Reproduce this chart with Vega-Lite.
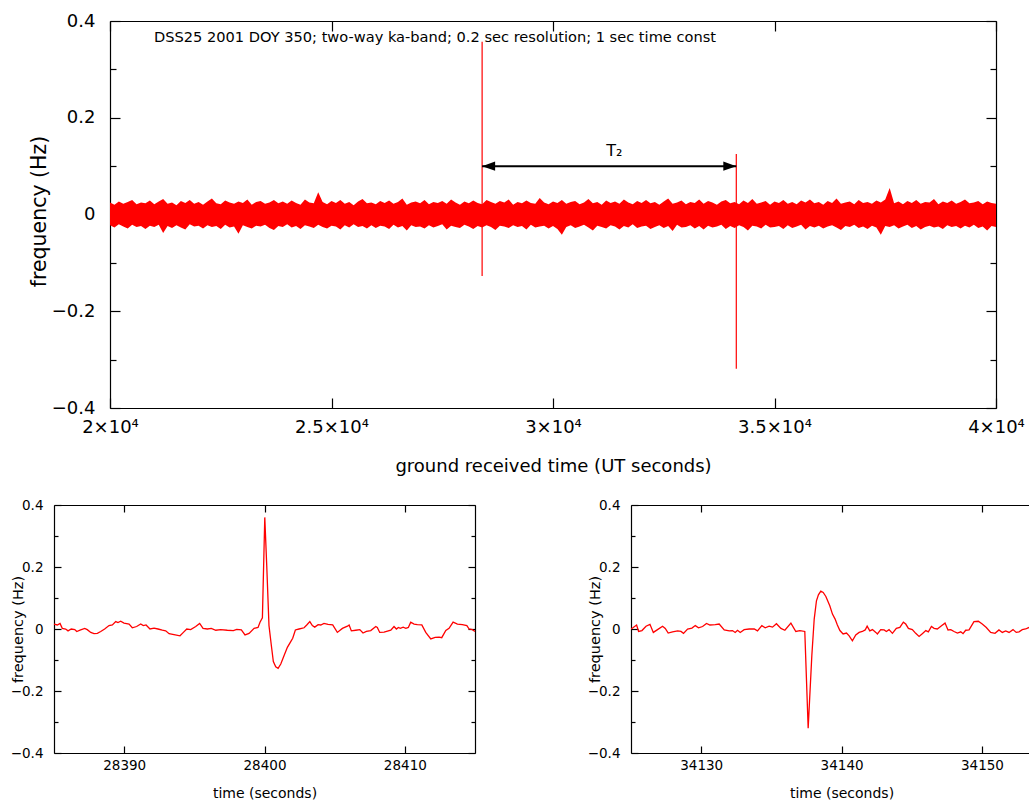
{
"$schema": "https://vega.github.io/schema/vega-lite/v6.json",
"background": "white",
"padding": {"left": 10, "top": 12, "right": 0, "bottom": 0},
"config": {"font": "DejaVu Sans", "view": {"stroke": null},
  "axis": {"grid": false, "domainColor": "black", "tickColor": "black", "labelColor": "black", "titleColor": "black", "titleFontWeight": "normal", "domainWidth": 1.2, "tickWidth": 1.2, "labelFlush": false, "labelOverlap": false, "labelBound": false}},
"datasets": {
"band": [
{"t":20000,"h":0.025,"l":-0.022},{"t":20100,"h":0.020,"l":-0.027},{"t":20200,"h":0.027,"l":-0.020},{"t":20300,"h":0.022,"l":-0.025},{"t":20400,"h":0.026,"l":-0.029},{"t":20500,"h":0.030,"l":-0.021},{"t":20600,"h":0.021,"l":-0.026},{"t":20700,"h":0.025,"l":-0.024},{"t":20800,"h":0.023,"l":-0.030},{"t":20900,"h":0.029,"l":-0.023},
{"t":21000,"h":0.021,"l":-0.026},{"t":21100,"h":0.027,"l":-0.021},{"t":21200,"h":0.032,"l":-0.038},{"t":21300,"h":0.022,"l":-0.024},{"t":21400,"h":0.025,"l":-0.028},{"t":21500,"h":0.019,"l":-0.022},{"t":21600,"h":0.028,"l":-0.027},{"t":21700,"h":0.024,"l":-0.031},{"t":21800,"h":0.030,"l":-0.020},{"t":21900,"h":0.022,"l":-0.025},
{"t":22000,"h":0.026,"l":-0.023},{"t":22100,"h":0.020,"l":-0.029},{"t":22200,"h":0.027,"l":-0.022},{"t":22300,"h":0.033,"l":-0.026},{"t":22400,"h":0.023,"l":-0.024},{"t":22500,"h":0.021,"l":-0.030},{"t":22600,"h":0.029,"l":-0.021},{"t":22700,"h":0.025,"l":-0.027},{"t":22800,"h":0.022,"l":-0.025},{"t":22900,"h":0.027,"l":-0.040},
{"t":23000,"h":0.024,"l":-0.022},{"t":23100,"h":0.031,"l":-0.026},{"t":23200,"h":0.020,"l":-0.029},{"t":23300,"h":0.026,"l":-0.023},{"t":23400,"h":0.028,"l":-0.025},{"t":23500,"h":0.022,"l":-0.021},{"t":23600,"h":0.025,"l":-0.028},{"t":23700,"h":0.030,"l":-0.032},{"t":23800,"h":0.023,"l":-0.024},{"t":23900,"h":0.027,"l":-0.026},
{"t":24000,"h":0.022,"l":-0.020},{"t":24100,"h":0.029,"l":-0.027},{"t":24200,"h":0.024,"l":-0.024},{"t":24300,"h":0.020,"l":-0.030},{"t":24400,"h":0.031,"l":-0.022},{"t":24500,"h":0.025,"l":-0.025},{"t":24600,"h":0.023,"l":-0.028},{"t":24700,"h":0.046,"l":-0.021},{"t":24800,"h":0.026,"l":-0.026},{"t":24900,"h":0.021,"l":-0.029},
{"t":25000,"h":0.028,"l":-0.023},{"t":25100,"h":0.024,"l":-0.025},{"t":25200,"h":0.030,"l":-0.031},{"t":25300,"h":0.022,"l":-0.022},{"t":25400,"h":0.026,"l":-0.027},{"t":25500,"h":0.019,"l":-0.020},{"t":25600,"h":0.027,"l":-0.026},{"t":25700,"h":0.032,"l":-0.024},{"t":25800,"h":0.023,"l":-0.029},{"t":25900,"h":0.025,"l":-0.022},
{"t":26000,"h":0.021,"l":-0.028},{"t":26100,"h":0.028,"l":-0.023},{"t":26200,"h":0.024,"l":-0.025},{"t":26300,"h":0.029,"l":-0.030},{"t":26400,"h":0.022,"l":-0.021},{"t":26500,"h":0.026,"l":-0.027},{"t":26600,"h":0.033,"l":-0.024},{"t":26700,"h":0.020,"l":-0.033},{"t":26800,"h":0.025,"l":-0.022},{"t":26900,"h":0.027,"l":-0.026},
{"t":27000,"h":0.023,"l":-0.025},{"t":27100,"h":0.030,"l":-0.029},{"t":27200,"h":0.021,"l":-0.022},{"t":27300,"h":0.026,"l":-0.027},{"t":27400,"h":0.024,"l":-0.024},{"t":27500,"h":0.028,"l":-0.020},{"t":27600,"h":0.022,"l":-0.031},{"t":27700,"h":0.031,"l":-0.023},{"t":27800,"h":0.025,"l":-0.026},{"t":27900,"h":0.020,"l":-0.028},
{"t":28000,"h":0.027,"l":-0.021},{"t":28100,"h":0.023,"l":-0.025},{"t":28200,"h":0.029,"l":-0.030},{"t":28300,"h":0.024,"l":-0.024},{"t":28400,"h":0.021,"l":-0.027},{"t":28500,"h":0.030,"l":-0.022},{"t":28600,"h":0.026,"l":-0.026},{"t":28700,"h":0.022,"l":-0.032},{"t":28800,"h":0.028,"l":-0.023},{"t":28900,"h":0.025,"l":-0.025},
{"t":29000,"h":0.031,"l":-0.028},{"t":29100,"h":0.020,"l":-0.022},{"t":29200,"h":0.026,"l":-0.026},{"t":29300,"h":0.023,"l":-0.024},{"t":29400,"h":0.029,"l":-0.031},{"t":29500,"h":0.024,"l":-0.021},{"t":29600,"h":0.022,"l":-0.027},{"t":29700,"h":0.034,"l":-0.025},{"t":29800,"h":0.025,"l":-0.023},{"t":29900,"h":0.021,"l":-0.029},
{"t":30000,"h":0.027,"l":-0.024},{"t":30100,"h":0.024,"l":-0.030},{"t":30200,"h":0.030,"l":-0.042},{"t":30300,"h":0.022,"l":-0.026},{"t":30400,"h":0.026,"l":-0.022},{"t":30500,"h":0.028,"l":-0.028},{"t":30600,"h":0.021,"l":-0.025},{"t":30700,"h":0.025,"l":-0.021},{"t":30800,"h":0.032,"l":-0.027},{"t":30900,"h":0.023,"l":-0.033},
{"t":31000,"h":0.026,"l":-0.023},{"t":31100,"h":0.020,"l":-0.026},{"t":31200,"h":0.029,"l":-0.029},{"t":31300,"h":0.024,"l":-0.022},{"t":31400,"h":0.027,"l":-0.025},{"t":31500,"h":0.022,"l":-0.031},{"t":31600,"h":0.031,"l":-0.024},{"t":31700,"h":0.025,"l":-0.027},{"t":31800,"h":0.021,"l":-0.020},{"t":31900,"h":0.028,"l":-0.028},
{"t":32000,"h":0.024,"l":-0.025},{"t":32100,"h":0.030,"l":-0.023},{"t":32200,"h":0.023,"l":-0.030},{"t":32300,"h":0.026,"l":-0.026},{"t":32400,"h":0.020,"l":-0.022},{"t":32500,"h":0.027,"l":-0.028},{"t":32600,"h":0.033,"l":-0.024},{"t":32700,"h":0.022,"l":-0.034},{"t":32800,"h":0.025,"l":-0.021},{"t":32900,"h":0.029,"l":-0.027},
{"t":33000,"h":0.021,"l":-0.026},{"t":33100,"h":0.026,"l":-0.022},{"t":33200,"h":0.024,"l":-0.029},{"t":33300,"h":0.031,"l":-0.024},{"t":33400,"h":0.022,"l":-0.031},{"t":33500,"h":0.028,"l":-0.023},{"t":33600,"h":0.025,"l":-0.027},{"t":33700,"h":0.020,"l":-0.025},{"t":33800,"h":0.027,"l":-0.021},{"t":33900,"h":0.030,"l":-0.030},
{"t":34000,"h":0.023,"l":-0.024},{"t":34100,"h":0.026,"l":-0.028},{"t":34200,"h":0.021,"l":-0.022},{"t":34300,"h":0.029,"l":-0.026},{"t":34400,"h":0.024,"l":-0.033},{"t":34500,"h":0.032,"l":-0.023},{"t":34600,"h":0.022,"l":-0.025},{"t":34700,"h":0.025,"l":-0.029},{"t":34800,"h":0.028,"l":-0.021},{"t":34900,"h":0.020,"l":-0.027},
{"t":35000,"h":0.027,"l":-0.026},{"t":35100,"h":0.024,"l":-0.024},{"t":35200,"h":0.030,"l":-0.030},{"t":35300,"h":0.022,"l":-0.022},{"t":35400,"h":0.026,"l":-0.028},{"t":35500,"h":0.021,"l":-0.025},{"t":35600,"h":0.029,"l":-0.021},{"t":35700,"h":0.025,"l":-0.031},{"t":35800,"h":0.031,"l":-0.024},{"t":35900,"h":0.023,"l":-0.027},
{"t":36000,"h":0.026,"l":-0.023},{"t":36100,"h":0.020,"l":-0.029},{"t":36200,"h":0.028,"l":-0.025},{"t":36300,"h":0.024,"l":-0.022},{"t":36400,"h":0.033,"l":-0.027},{"t":36500,"h":0.022,"l":-0.032},{"t":36600,"h":0.025,"l":-0.024},{"t":36700,"h":0.027,"l":-0.026},{"t":36800,"h":0.021,"l":-0.021},{"t":36900,"h":0.030,"l":-0.028},
{"t":37000,"h":0.024,"l":-0.025},{"t":37100,"h":0.026,"l":-0.030},{"t":37200,"h":0.022,"l":-0.023},{"t":37300,"h":0.029,"l":-0.027},{"t":37400,"h":0.025,"l":-0.042},{"t":37500,"h":0.031,"l":-0.024},{"t":37600,"h":0.055,"l":-0.026},{"t":37700,"h":0.023,"l":-0.022},{"t":37800,"h":0.027,"l":-0.029},{"t":37900,"h":0.021,"l":-0.025},
{"t":38000,"h":0.028,"l":-0.021},{"t":38100,"h":0.024,"l":-0.028},{"t":38200,"h":0.030,"l":-0.024},{"t":38300,"h":0.022,"l":-0.031},{"t":38400,"h":0.026,"l":-0.026},{"t":38500,"h":0.025,"l":-0.023},{"t":38600,"h":0.032,"l":-0.027},{"t":38700,"h":0.021,"l":-0.025},{"t":38800,"h":0.027,"l":-0.030},{"t":38900,"h":0.024,"l":-0.022},
{"t":39000,"h":0.029,"l":-0.026},{"t":39100,"h":0.022,"l":-0.024},{"t":39200,"h":0.026,"l":-0.029},{"t":39300,"h":0.031,"l":-0.023},{"t":39400,"h":0.023,"l":-0.027},{"t":39500,"h":0.025,"l":-0.021},{"t":39600,"h":0.028,"l":-0.028},{"t":39700,"h":0.021,"l":-0.025},{"t":39800,"h":0.027,"l":-0.033},{"t":39900,"h":0.024,"l":-0.024},
{"t":40000,"h":0.022,"l":-0.026}
],
"spikes": [{"t":28400,"hi":0.357,"lo":-0.127},{"t":34137.6,"hi":0.125,"lo":-0.319}],
"arrow": [{"start":28400,"end":34137.6,"y":0.1}],
"heads": [{"t":28400,"y":0.1,"side":"left"},{"t":34137.6,"y":0.1,"side":"right"}],
"note": [{"t":20993,"y":0.365,"label":"DSS25 2001 DOY 350; two-way ka-band; 0.2 sec resolution; 1 sec time const"}],
"t2": [{"t":31270,"y":0.131,"label":"T₂"}],
"left": [
{"t":28385.00,"f":0.016},{"t":28385.24,"f":0.013},{"t":28385.43,"f":0.018},{"t":28385.59,"f":0.002},{"t":28385.83,"f":0},{"t":28386.00,"f":-0.006},{"t":28386.23,"f":0},{"t":28386.48,"f":-0.002},{"t":28386.62,"f":-0.008},{"t":28386.90,"f":-0.003},
{"t":28387.19,"f":0.002},{"t":28387.37,"f":-0.002},{"t":28387.62,"f":-0.011},{"t":28387.85,"f":-0.015},{"t":28388.09,"f":-0.014},{"t":28388.33,"f":-0.008},{"t":28388.61,"f":0},{"t":28388.92,"f":0.011},{"t":28389.16,"f":0.013},{"t":28389.40,"f":0.024},
{"t":28389.56,"f":0.021},{"t":28389.75,"f":0.025},{"t":28389.99,"f":0.019},{"t":28390.35,"f":0.016},{"t":28390.58,"f":0.004},{"t":28390.89,"f":0.008},{"t":28391.18,"f":0.016},{"t":28391.36,"f":0.011},{"t":28391.56,"f":0.013},{"t":28391.84,"f":0},
{"t":28392.13,"f":0.003},{"t":28392.41,"f":0},{"t":28392.72,"f":-0.004},{"t":28392.96,"f":-0.006},{"t":28393.20,"f":-0.015},{"t":28393.55,"f":-0.018},{"t":28393.98,"f":-0.022},{"t":28394.22,"f":-0.011},{"t":28394.46,"f":0},{"t":28394.74,"f":-0.002},
{"t":28395.10,"f":0.008},{"t":28395.38,"f":0.018},{"t":28395.62,"f":0.002},{"t":28395.93,"f":0},{"t":28396.21,"f":0.002},{"t":28396.53,"f":-0.004},{"t":28396.88,"f":-0.002},{"t":28397.35,"f":-0.004},{"t":28397.78,"f":-0.005},{"t":28398.02,"f":-0.001},
{"t":28398.35,"f":-0.003},{"t":28398.61,"f":-0.019},{"t":28398.90,"f":-0.014},{"t":28399.26,"f":0.002},{"t":28399.54,"f":0.005},{"t":28399.68,"f":0.022},{"t":28399.85,"f":0.036},{"t":28400.02,"f":0.36},{"t":28400.16,"f":0.204},{"t":28400.32,"f":0.011},
{"t":28400.49,"f":-0.054},{"t":28400.63,"f":-0.105},{"t":28400.80,"f":-0.122},{"t":28400.97,"f":-0.127},{"t":28401.16,"f":-0.113},{"t":28401.39,"f":-0.086},{"t":28401.63,"f":-0.059},{"t":28401.87,"f":-0.041},{"t":28402.01,"f":-0.030},{"t":28402.20,"f":-0.003},
{"t":28402.46,"f":0},{"t":28402.82,"f":0.004},{"t":28403.01,"f":0.013},{"t":28403.23,"f":0.024},{"t":28403.41,"f":0.011},{"t":28403.58,"f":0.006},{"t":28403.82,"f":0.014},{"t":28404.01,"f":0.013},{"t":28404.24,"f":0.018},{"t":28404.53,"f":0.015},
{"t":28404.86,"f":0.013},{"t":28405.19,"f":-0.011},{"t":28405.55,"f":0.002},{"t":28405.91,"f":0.009},{"t":28406.03,"f":0.013},{"t":28406.19,"f":-0.006},{"t":28406.50,"f":-0.004},{"t":28406.79,"f":-0.002},{"t":28407.02,"f":-0.013},{"t":28407.26,"f":-0.008},
{"t":28407.57,"f":-0.005},{"t":28407.93,"f":0.008},{"t":28408.04,"f":0.005},{"t":28408.21,"f":-0.011},{"t":28408.52,"f":-0.010},{"t":28409.00,"f":-0.004},{"t":28409.23,"f":0.008},{"t":28409.40,"f":0},{"t":28409.54,"f":0.005},{"t":28409.68,"f":0.002},
{"t":28409.88,"f":0.006},{"t":28410.07,"f":0.002},{"t":28410.25,"f":0.005},{"t":28410.42,"f":0.022},{"t":28410.66,"f":0.016},{"t":28410.89,"f":0.014},{"t":28411.21,"f":0.013},{"t":28411.49,"f":-0.011},{"t":28411.85,"f":-0.032},{"t":28412.16,"f":-0.027},
{"t":28412.44,"f":-0.026},{"t":28412.63,"f":-0.028},{"t":28412.92,"f":-0.005},{"t":28413.15,"f":0.002},{"t":28413.44,"f":0.022},{"t":28413.75,"f":0.016},{"t":28414.10,"f":0.014},{"t":28414.42,"f":0.011},{"t":28414.58,"f":0},{"t":28414.81,"f":-0.002},
{"t":28415.00,"f":-0.008}
],
"right": [
{"t":34125.00,"f":0},{"t":34125.16,"f":0.005},{"t":34125.40,"f":0.013},{"t":34125.54,"f":-0.008},{"t":34125.78,"f":-0.005},{"t":34126.07,"f":0.009},{"t":34126.35,"f":0.015},{"t":34126.59,"f":-0.011},{"t":34126.89,"f":-0.002},{"t":34127.25,"f":0.009},
{"t":34127.44,"f":0.002},{"t":34127.65,"f":-0.013},{"t":34127.96,"f":-0.009},{"t":34128.32,"f":-0.006},{"t":34128.56,"f":-0.008},{"t":34128.74,"f":-0.014},{"t":34129.03,"f":0},{"t":34129.34,"f":0.003},{"t":34129.58,"f":0.011},{"t":34129.81,"f":0.004},
{"t":34130.10,"f":0.008},{"t":34130.38,"f":0.018},{"t":34130.62,"f":0.013},{"t":34131.00,"f":0.014},{"t":34131.28,"f":0.016},{"t":34131.64,"f":-0.003},{"t":34132.00,"f":-0.006},{"t":34132.23,"f":-0.005},{"t":34132.42,"f":-0.011},{"t":34132.59,"f":-0.004},
{"t":34132.78,"f":-0.011},{"t":34133.06,"f":-0.002},{"t":34133.42,"f":0},{"t":34133.78,"f":0},{"t":34134.01,"f":-0.006},{"t":34134.32,"f":0.011},{"t":34134.56,"f":0.004},{"t":34134.84,"f":0.009},{"t":34135.08,"f":0.006},{"t":34135.36,"f":0.017},
{"t":34135.68,"f":0.002},{"t":34135.96,"f":-0.004},{"t":34136.39,"f":0.019},{"t":34136.74,"f":-0.008},{"t":34137.03,"f":-0.005},{"t":34137.38,"f":-0.008},{"t":34137.62,"f":-0.32},{"t":34137.88,"f":-0.086},{"t":34138.05,"f":0.032},{"t":34138.21,"f":0.091},
{"t":34138.35,"f":0.110},{"t":34138.52,"f":0.122},{"t":34138.69,"f":0.118},{"t":34138.88,"f":0.105},{"t":34139.16,"f":0.075},{"t":34139.35,"f":0.048},{"t":34139.54,"f":0.032},{"t":34139.70,"f":0.013},{"t":34139.88,"f":-0.005},{"t":34140.11,"f":-0.016},
{"t":34140.35,"f":-0.013},{"t":34140.54,"f":-0.022},{"t":34140.77,"f":-0.038},{"t":34141.01,"f":-0.019},{"t":34141.25,"f":-0.011},{"t":34141.48,"f":-0.008},{"t":34141.68,"f":-0.003},{"t":34141.82,"f":0.009},{"t":34142.01,"f":-0.006},{"t":34142.20,"f":-0.002},
{"t":34142.44,"f":-0.011},{"t":34142.55,"f":-0.016},{"t":34142.79,"f":-0.002},{"t":34143.03,"f":-0.003},{"t":34143.19,"f":-0.008},{"t":34143.38,"f":-0.002},{"t":34143.62,"f":-0.014},{"t":34143.90,"f":0.002},{"t":34144.15,"f":0.005},{"t":34144.40,"f":0.022},
{"t":34144.57,"f":0.016},{"t":34144.76,"f":0.002},{"t":34145.04,"f":-0.002},{"t":34145.28,"f":-0.014},{"t":34145.52,"f":-0.024},{"t":34145.75,"f":-0.015},{"t":34146.00,"f":-0.005},{"t":34146.18,"f":-0.009},{"t":34146.40,"f":0.008},{"t":34146.59,"f":0.002},
{"t":34146.82,"f":0},{"t":34147.14,"f":0.011},{"t":34147.37,"f":0.019},{"t":34147.58,"f":-0.003},{"t":34147.78,"f":-0.002},{"t":34148.01,"f":-0.008},{"t":34148.25,"f":-0.013},{"t":34148.49,"f":-0.009},{"t":34148.65,"f":-0.015},{"t":34148.84,"f":-0.004},
{"t":34149.08,"f":-0.003},{"t":34149.43,"f":0.024},{"t":34149.74,"f":0.025},{"t":34150.02,"f":0.016},{"t":34150.31,"f":0.005},{"t":34150.62,"f":-0.011},{"t":34150.93,"f":-0.014},{"t":34151.21,"f":-0.003},{"t":34151.45,"f":-0.011},{"t":34151.69,"f":-0.006},
{"t":34151.93,"f":-0.011},{"t":34152.21,"f":-0.002},{"t":34152.44,"f":-0.011},{"t":34152.64,"f":-0.009},{"t":34152.87,"f":-0.002},{"t":34153.11,"f":0},{"t":34153.35,"f":0.005}
]
},
"spacing": 23,
"vconcat": [
{"bounds": "flush", "spacing": 10, "hconcat": [
  {"width": 46, "height": 10, "data": {"values": [{}]}, "mark": {"type": "point", "opacity": 0}, "encoding": {}},
  {"width": 886, "height": 387,
   "layer": [
    {"data": {"name": "band"}, "mark": {"type": "area", "color": "#ff0000", "interpolate": "linear"},
     "encoding": {
      "x": {"field": "t", "type": "quantitative", "scale": {"domain": [20000, 40000], "nice": false, "zero": false},
        "axis": {"orient": "bottom", "values": [20000, 25000, 30000, 35000, 40000], "labelExpr": "format(datum.value/10000,'~g') + '×10⁴'", "tickSize": -10, "labelFontSize": 18, "labelPadding": 20, "title": "ground received time (UT seconds)", "titleFontSize": 18, "titleY": 63, "titleBaseline": "alphabetic"}},
      "y": {"field": "h", "type": "quantitative", "scale": {"domain": [-0.4, 0.4], "nice": false, "zero": false},
        "axis": {"orient": "left", "values": [-0.4, -0.2, 0, 0.2, 0.4], "format": "~g", "tickSize": -10, "labelFontSize": 18, "labelPadding": 25, "title": "frequency (Hz)", "titleFontSize": 20.5, "titleX": -71, "titleY": 190, "titleAngle": -90, "titleAlign": "center", "titleBaseline": "middle"}},
      "y2": {"field": "l"}}},
    {"data": {"name": "spikes"}, "mark": {"type": "rule", "color": "#ff0000", "strokeWidth": 1.2},
     "encoding": {
      "x": {"field": "t", "type": "quantitative", "axis": {"orient": "top", "values": [20000, 25000, 30000, 35000, 40000], "labels": false, "tickSize": -10, "title": null}},
      "y": {"field": "hi", "type": "quantitative", "axis": {"orient": "right", "values": [-0.4, -0.2, 0, 0.2, 0.4], "labels": false, "tickSize": -10, "title": null}},
      "y2": {"field": "lo"}}},
    {"data": {"name": "arrow"}, "mark": {"type": "rule", "color": "black", "strokeWidth": 2},
     "encoding": {
      "x": {"field": "start", "type": "quantitative", "axis": null},
      "x2": {"field": "end"},
      "y": {"field": "y", "type": "quantitative", "axis": {"orient": "left", "values": [-0.3, -0.1, 0.1, 0.3], "labels": false, "domain": false, "tickSize": -6, "title": null}}}},
    {"data": {"name": "heads"}, "mark": {"type": "point", "filled": true, "color": "black", "opacity": 1, "size": 169},
     "encoding": {
      "x": {"field": "t", "type": "quantitative", "axis": null},
      "y": {"field": "y", "type": "quantitative", "axis": {"orient": "right", "values": [-0.3, -0.1, 0.1, 0.3], "labels": false, "domain": false, "tickSize": -6, "title": null}},
      "shape": {"field": "side", "type": "nominal", "scale": {"domain": ["left", "right"], "range": ["M0,0L2,-0.7L2,0.7Z", "M0,0L-2,-0.7L-2,0.7Z"]}, "legend": null}}},
    {"data": {"name": "note"}, "mark": {"type": "text", "align": "left", "baseline": "middle", "fontSize": 14.6, "color": "black"},
     "encoding": {
      "x": {"field": "t", "type": "quantitative", "axis": null},
      "y": {"field": "y", "type": "quantitative", "axis": null},
      "text": {"field": "label"}}},
    {"data": {"name": "t2"}, "mark": {"type": "text", "align": "center", "baseline": "middle", "fontSize": 16, "dx": 5, "color": "black"},
     "encoding": {
      "x": {"field": "t", "type": "quantitative", "axis": null},
      "y": {"field": "y", "type": "quantitative", "axis": null},
      "text": {"field": "label"}}}
   ],
   "resolve": {"axis": {"x": "independent", "y": "independent"}}
  }
]},
{"bounds": "flush", "spacing": 156, "hconcat": [
  {"width": 421, "height": 248,
   "data": {"name": "left"},
   "layer": [
    {"mark": {"type": "line", "color": "#ff0000", "strokeWidth": 1.3},
     "encoding": {
      "x": {"field": "t", "type": "quantitative", "scale": {"domain": [28385, 28415], "nice": false, "zero": false},
        "axis": {"orient": "bottom", "values": [28390, 28400, 28410], "format": "d", "tickSize": -7, "labelFontSize": 13.5, "labelPadding": 12, "title": "time (seconds)", "titleFontSize": 14, "titleY": 44, "titleBaseline": "alphabetic"}},
      "y": {"field": "f", "type": "quantitative", "scale": {"domain": [-0.4, 0.4], "nice": false, "zero": false},
        "axis": {"orient": "left", "values": [-0.4, -0.2, 0, 0.2, 0.4], "format": "~g", "tickSize": -7, "labelFontSize": 13.5, "labelPadding": 18, "title": "frequency (Hz)", "titleFontSize": 14.5, "titleX": -36, "titleY": 124, "titleAngle": -90, "titleAlign": "center", "titleBaseline": "middle"}}}},
    {"mark": {"type": "line", "opacity": 0},
     "encoding": {
      "x": {"field": "t", "type": "quantitative", "axis": {"orient": "top", "values": [28390, 28400, 28410], "labels": false, "tickSize": -7, "title": null}},
      "y": {"field": "f", "type": "quantitative", "axis": {"orient": "right", "values": [-0.4, -0.2, 0, 0.2, 0.4], "labels": false, "tickSize": -7, "title": null}}}},
    {"mark": {"type": "line", "opacity": 0},
     "encoding": {
      "x": {"field": "t", "type": "quantitative", "axis": null},
      "y": {"field": "f", "type": "quantitative", "axis": {"orient": "left", "values": [-0.3, -0.1, 0.1, 0.3], "labels": false, "domain": false, "tickSize": -4, "title": null}}}},
    {"mark": {"type": "line", "opacity": 0},
     "encoding": {
      "x": {"field": "t", "type": "quantitative", "axis": null},
      "y": {"field": "f", "type": "quantitative", "axis": {"orient": "right", "values": [-0.3, -0.1, 0.1, 0.3], "labels": false, "domain": false, "tickSize": -4, "title": null}}}}
   ],
   "resolve": {"axis": {"x": "independent", "y": "independent"}}
  },
  {"width": 398, "height": 248,
   "data": {"name": "right"},
   "layer": [
    {"mark": {"type": "line", "color": "#ff0000", "strokeWidth": 1.3, "clip": true},
     "encoding": {
      "x": {"field": "t", "type": "quantitative", "scale": {"domain": [34125, 34153.35], "nice": false, "zero": false},
        "axis": {"orient": "bottom", "values": [34130, 34140, 34150], "format": "d", "tickSize": -7, "labelFontSize": 13.5, "labelPadding": 12, "title": "time (seconds)", "titleFontSize": 14, "titleX": 210.5, "titleY": 44, "titleBaseline": "alphabetic"}},
      "y": {"field": "f", "type": "quantitative", "scale": {"domain": [-0.4, 0.4], "nice": false, "zero": false},
        "axis": {"orient": "left", "values": [-0.4, -0.2, 0, 0.2, 0.4], "format": "~g", "tickSize": -7, "labelFontSize": 13.5, "labelPadding": 18, "title": "frequency (Hz)", "titleFontSize": 14.5, "titleX": -36, "titleY": 124, "titleAngle": -90, "titleAlign": "center", "titleBaseline": "middle"}}}},
    {"mark": {"type": "line", "opacity": 0},
     "encoding": {
      "x": {"field": "t", "type": "quantitative", "axis": {"orient": "top", "values": [34130, 34140, 34150], "labels": false, "tickSize": -7, "title": null}},
      "y": {"field": "f", "type": "quantitative", "axis": {"orient": "left", "values": [-0.3, -0.1, 0.1, 0.3], "labels": false, "domain": false, "tickSize": -4, "title": null}}}}
   ],
   "resolve": {"axis": {"x": "independent", "y": "independent"}}
  }
]}
]
}
